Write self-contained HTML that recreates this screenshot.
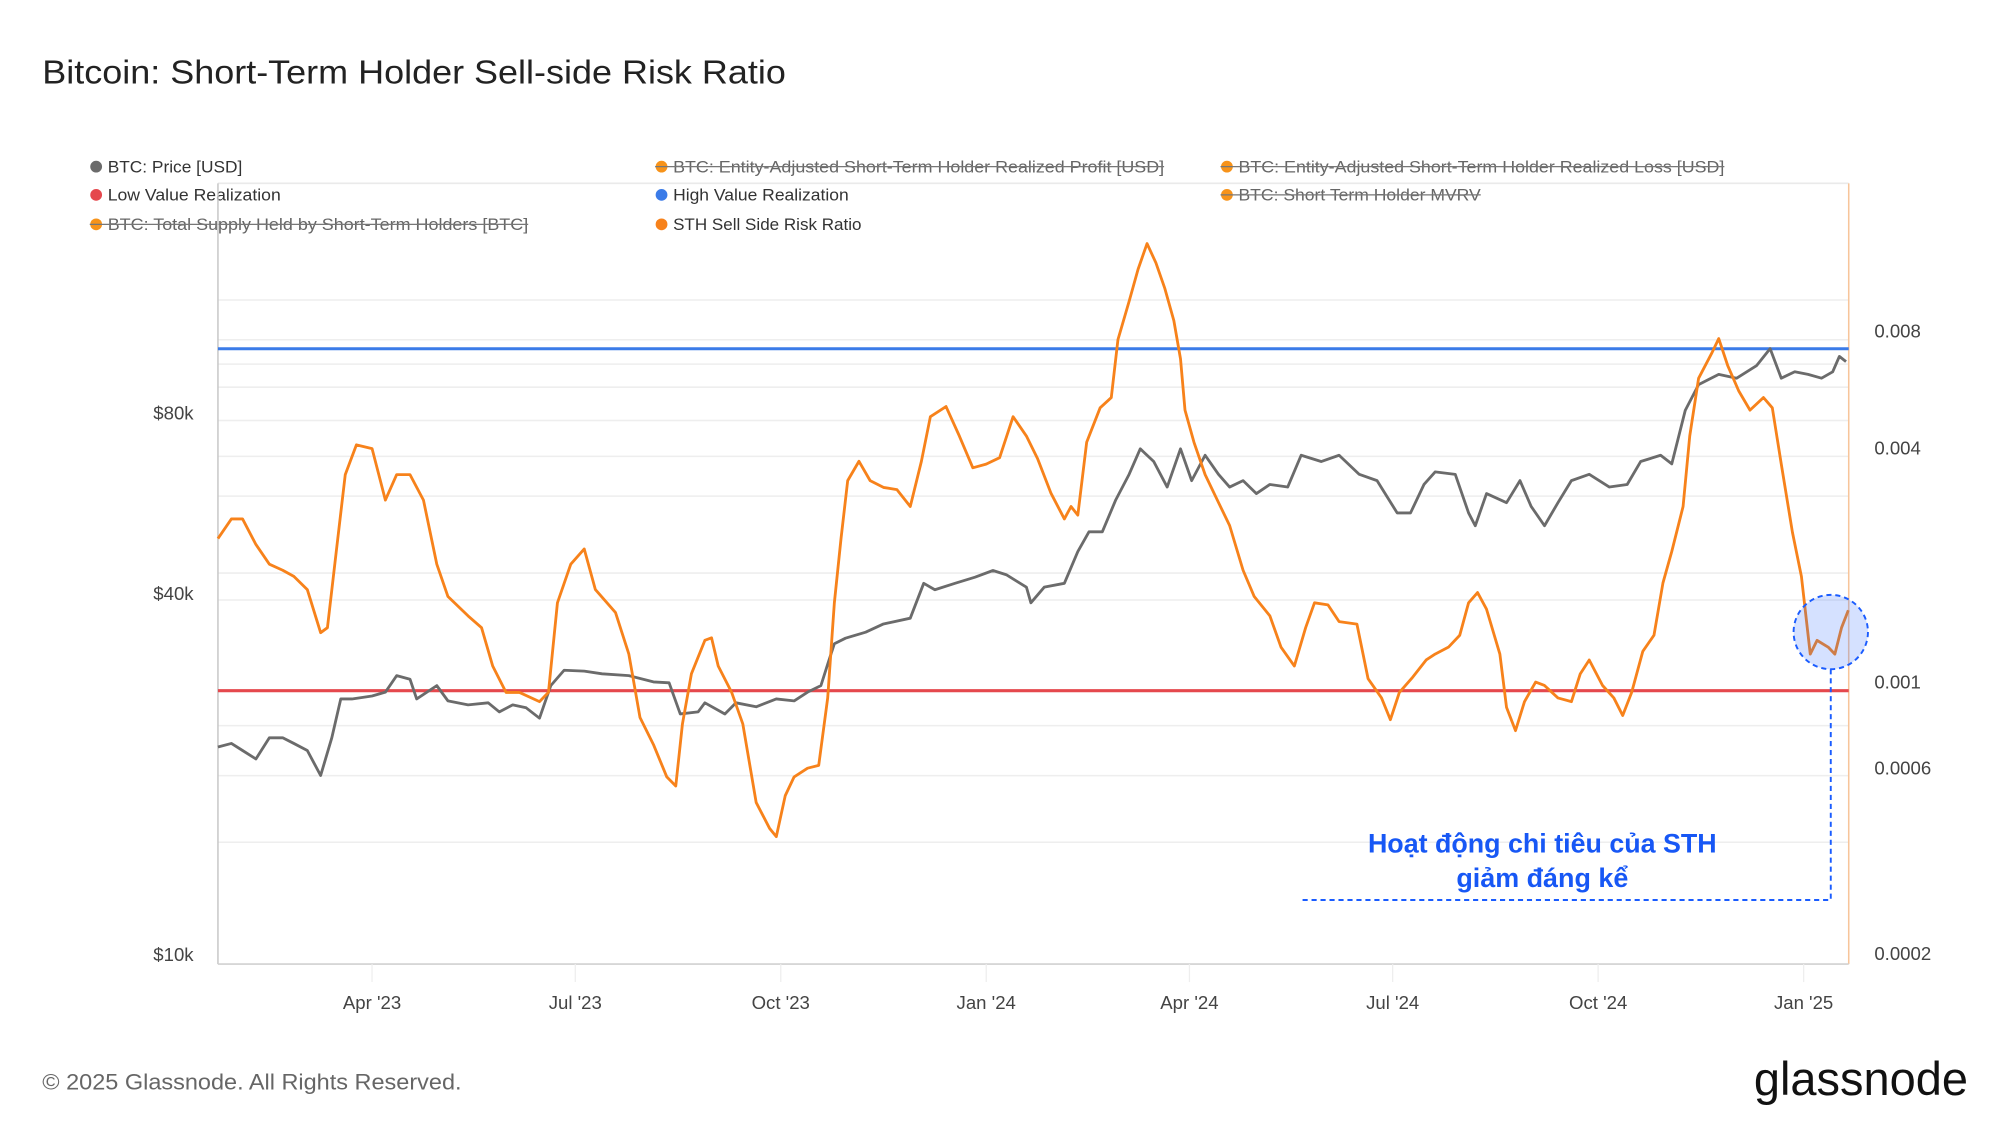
<!DOCTYPE html>
<html><head><meta charset="utf-8"><style>
html,body{margin:0;padding:0;background:#fff;}
svg{display:block;font-family:"Liberation Sans","Noto Sans CJK SC",sans-serif;}
</style></head><body>
<svg id="chart" width="2000" height="1126" viewBox="0 0 1560 878.3" preserveAspectRatio="none" xmlns="http://www.w3.org/2000/svg">
<rect width="1560" height="878.3" fill="#fff"/>
<text x="33" y="65" font-size="26" fill="#222" textLength="580" lengthAdjust="spacingAndGlyphs">Bitcoin: Short-Term Holder Sell-side Risk Ratio</text>
<g id="legend" font-size="13" fill="#333"></g>
<g id="grid"></g>
<g id="axes"></g>
<g id="series"></g>
<g>
<circle cx="1428" cy="493" r="29" fill="#2f6bff" fill-opacity="0.2" stroke="#1a5cff" stroke-width="1.5" stroke-dasharray="4,3"/>
<line x1="1428" y1="522" x2="1428" y2="702" stroke="#1a5cff" stroke-width="1.5" stroke-dasharray="4,3"/>
<line x1="1016" y1="702" x2="1428" y2="702" stroke="#1a5cff" stroke-width="1.5" stroke-dasharray="4,3"/>
<text x="1203" y="665" text-anchor="middle" font-size="21" font-weight="bold" fill="#1757f5" textLength="272" lengthAdjust="spacingAndGlyphs">Hoạt động chi tiêu của STH</text>
<text x="1203" y="692" text-anchor="middle" font-size="21" font-weight="bold" fill="#1757f5">giảm đáng kể</text>
</g>
<text x="33" y="850" font-size="17.5" fill="#666" textLength="327" lengthAdjust="spacingAndGlyphs">© 2025 Glassnode. All Rights Reserved.</text>
<text x="1368" y="854" font-size="37" fill="#111" textLength="167" lengthAdjust="spacingAndGlyphs">glassnode</text>
</svg>
<script>
const priceDays=[0,6,11,17,23,29,34,40,46,51,55,60,69,75,80,86,89,98,103,112,121,126,132,138,144,149,155,164,172,184,195,202,207,215,218,227,232,241,250,258,264,270,273,276,281,290,298,310,316,321,330,339,347,353,362,364,370,379,385,390,396,402,408,413,419,425,431,436,442,448,453,459,465,471,479,485,494,502,511,519,528,534,540,545,554,560,563,568,577,583,588,594,600,606,614,623,631,637,646,651,657,663,672,680,689,695,700,706,712,718,723,726,729];
const priceValues=[22200,22500,21900,21200,23000,23000,22500,21900,19900,23000,26700,26700,27000,27400,29200,28800,26700,28100,26500,26100,26300,25400,26100,25800,24800,28100,29800,29700,29400,29200,28500,28400,25200,25400,26300,25200,26300,25900,26700,26500,27400,28100,30500,33000,33700,34500,35600,36400,41600,40600,41600,42600,43700,43000,41000,38600,41000,41600,47000,50700,50700,57300,63200,69700,66400,60200,69700,61700,68000,63200,60200,61700,58700,60800,60200,68000,66400,68000,63200,61700,54500,54500,60800,63800,63200,54500,51900,58700,56700,61700,55900,51900,56700,61700,63200,60200,60800,66400,68000,65800,80800,89200,92800,91400,96000,102400,91400,93700,92800,91400,93700,99400,97400];
const ratioDays=[0,6,11,17,23,29,34,40,46,49,53,57,62,69,75,80,86,92,98,103,112,118,123,129,135,144,148,152,158,164,169,178,184,189,195,201,205,208,212,218,221,224,230,235,241,247,250,254,258,264,269,273,276,279,282,287,292,298,304,310,315,319,326,332,338,344,350,356,362,367,373,379,382,385,389,395,400,403,408,412,416,420,424,428,431,433,437,442,448,453,459,464,471,476,482,487,491,497,502,510,515,521,525,529,535,541,545,551,556,560,564,568,574,577,581,585,590,594,600,606,610,614,620,625,629,633,638,643,647,651,656,659,663,669,672,676,681,686,692,696,700,705,709,713,716,721,724,727,730];
const ratioValues=[0.00234,0.00263,0.00263,0.00226,0.00201,0.00194,0.00187,0.00173,0.00134,0.00138,0.00217,0.00342,0.00408,0.00399,0.00294,0.00342,0.00342,0.00294,0.00201,0.00166,0.00148,0.00138,0.00110,0.00094,0.00094,0.00089,0.00094,0.00160,0.00201,0.00220,0.00173,0.00151,0.00118,0.00081,0.00069,0.00057,0.00054,0.00078,0.00105,0.00128,0.00130,0.00110,0.00094,0.00078,0.00049,0.00042,0.00040,0.00051,0.00057,0.00060,0.00061,0.00091,0.00160,0.00234,0.00330,0.00370,0.00330,0.00317,0.00313,0.00283,0.00370,0.00482,0.00512,0.00430,0.00356,0.00364,0.00378,0.00482,0.00430,0.00376,0.00306,0.00263,0.00283,0.00269,0.00414,0.00508,0.00540,0.00761,0.00955,0.01155,0.01345,0.0120,0.0103,0.00852,0.00679,0.00501,0.00414,0.00342,0.00290,0.00253,0.00194,0.00166,0.00148,0.00123,0.00110,0.00138,0.00160,0.00158,0.00143,0.00141,0.00102,0.00091,0.00080,0.00094,0.00103,0.00114,0.00118,0.00123,0.00132,0.00160,0.00170,0.00154,0.00118,0.00086,0.00075,0.00089,0.00100,0.00098,0.00091,0.00089,0.00105,0.00114,0.00098,0.00091,0.00082,0.00094,0.00120,0.00132,0.00180,0.00217,0.00283,0.00430,0.00605,0.00705,0.00766,0.00653,0.00561,0.00501,0.00540,0.00508,0.00364,0.00243,0.00187,0.00118,0.00128,0.00123,0.00118,0.00138,0.00153];
const highValueLevel=0.00721;
const lowValueLevel=0.00095;
const xTickLabels=["Apr '23","Jul '23","Oct '23","Jan '24","Apr '24","Jul '24","Oct '24","Jan '25"];
const xTickDays=[69,160,252,344,435,526,618,710];
const leftTickLabels=["$80k","$40k","$10k"];
const leftTickValues=[80000,40000,10000];
const rightTickLabels=["0.008","0.004","0.001","0.0006","0.0002"];
const rightTickValues=[0.008,0.004,0.001,0.0006,0.0002];

const NS="http://www.w3.org/2000/svg";
const L=170,R=1442,T=143,B=752;
function xS(d){return L+d*1.742;}
function yPrice(p){return 463-468*Math.log10(p/40000);}
function yRatio(v){return 532-303*Math.log10(v/0.001);}
function mk(tag,attrs,parent){const e=document.createElementNS(NS,tag);for(const k in attrs)e.setAttribute(k,attrs[k]);parent.appendChild(e);return e;}

const grid=document.getElementById('grid');
[234,265,284,302,328,356,387,447,468,566,605,657].forEach(y=>{
  const g=mk('line',{x1:L,x2:R,y1:y,y2:y,stroke:'#eeeeee','stroke-width':1.2},grid);
  
  
});
const axes=document.getElementById('axes');
let a=mk('line',{x1:L,x2:R,y1:T,y2:T,stroke:'#eaeaea','stroke-width':1.2},axes);


a=mk('line',{x1:L,x2:L,y1:T,y2:B,stroke:'#c8c8c8','stroke-width':1.2},axes);


a=mk('line',{x1:R,x2:R,y1:T,y2:B,stroke:'#f7c59a','stroke-width':1.2},axes);


a=mk('line',{x1:L,x2:R,y1:B,y2:B,stroke:'#d0d0d0','stroke-width':1.2},axes);


xTickDays.forEach((d,i)=>{
  const t=mk('line',{x1:xS(d),x2:xS(d),y1:B,y2:B+14,stroke:'#eeeeee','stroke-width':1},axes);
  
  
  const tx=mk('text',{x:xS(d),y:787,'text-anchor':'middle','font-size':14.5,fill:'#444'},axes);
  tx.textContent=xTickLabels[i];
  
  
});
leftTickValues.forEach((v,i)=>{
  const tx=mk('text',{x:151,y:yPrice(v)+5,'text-anchor':'end','font-size':14.5,fill:'#444'},axes);
  tx.textContent=leftTickLabels[i];
  
  
});
rightTickValues.forEach((v,i)=>{
  const tx=mk('text',{x:1462,y:yRatio(v)+5,'font-size':14.5,fill:'#444'},axes);
  tx.textContent=rightTickLabels[i];
  
  
});

const series=document.getElementById('series');
let hl=mk('line',{x1:L,x2:R,y1:yRatio(highValueLevel),y2:yRatio(highValueLevel),stroke:'#3b7be8','stroke-width':2.4},series);


let ll=mk('line',{x1:L,x2:R,y1:yRatio(lowValueLevel),y2:yRatio(lowValueLevel),stroke:'#e5484d','stroke-width':2.4},series);


let pp=mk('path',{d:priceDays.map((d,i)=>(i?'L':'M')+xS(d).toFixed(1)+','+yPrice(priceValues[i]).toFixed(1)).join(''),fill:'none',stroke:'#6b6b6b','stroke-width':2.2,'stroke-linejoin':'round'},series);


let rp=mk('path',{d:ratioDays.map((d,i)=>(i?'L':'M')+xS(d).toFixed(1)+','+yRatio(ratioValues[i]).toFixed(1)).join(''),fill:'none',stroke:'#f7821b','stroke-width':2.2,'stroke-linejoin':'round'},series);



const legendItems=[
 ["BTC: Price [USD]","#6b6b6b",false,70,130,105],
 ["BTC: Entity-Adjusted Short-Term Holder Realized Profit [USD]","#f7931a",true,511,130,383],
 ["BTC: Entity-Adjusted Short-Term Holder Realized Loss [USD]","#f7931a",true,952,130,379],
 ["Low Value Realization","#e5484d",false,70,152,135],
 ["High Value Realization","#3b7be8",false,511,152,137],
 ["BTC: Short Term Holder MVRV","#f7931a",true,952,152,189],
 ["BTC: Total Supply Held by Short-Term Holders [BTC]","#f7931a",true,70,175,328],
 ["STH Sell Side Risk Ratio","#f7821b",false,511,175,147]
];
const lg=document.getElementById('legend');
legendItems.forEach(it=>{
  const g=mk('g',{},lg);
  
  
  mk('circle',{cx:it[3]+5,cy:it[4],r:4.6,fill:it[1]},g);
  const t=mk('text',{x:it[3]+14,y:it[4]+4.5,fill:it[2]?'#666':'#333',textLength:it[5],lengthAdjust:'spacingAndGlyphs'},g);
  t.textContent=it[0];
  if(it[2]){
    mk('line',{x1:it[3],x2:it[3]+14+it[5],y1:it[4],y2:it[4],stroke:'#777','stroke-width':1},g);
  }
});
</script>
</body></html>
